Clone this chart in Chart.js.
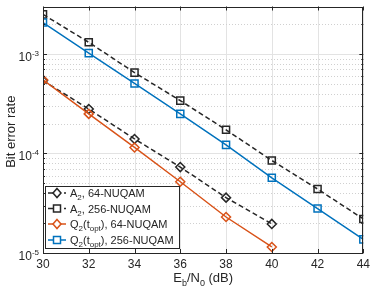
<!DOCTYPE html>
<html>
<head>
<meta charset="utf-8">
<script src="https://cdn.jsdelivr.net/npm/chart.js@4/dist/chart.umd.min.js"></script>
<style>
  html, body { margin: 0; padding: 0; background: #fff; }
  #wrap { width: 374px; height: 291px; position: relative; }
</style>
</head>
<body>
<div id="wrap"><canvas id="berChart"></canvas></div>
<script>
// ── Data ──────────────────────────────────────────────────────────────
const snr64  = [30, 32, 34, 36, 38, 40];
const snr256 = [30, 32, 34, 36, 38, 40, 42, 44];

const a2_64  = [5.4e-4, 2.8e-4, 1.4e-4, 7.3e-5, 3.6e-5, 1.96e-5];
const a2_256 = [2.5e-3, 1.31e-3, 6.5e-4, 3.4e-4, 1.73e-4, 8.5e-5, 4.4e-5, 2.2e-5];
const q2_64  = [5.5e-4, 2.5e-4, 1.15e-4, 5.2e-5, 2.3e-5, 1.15e-5];
const q2_256 = [2.07e-3, 1.02e-3, 5.06e-4, 2.5e-4, 1.22e-4, 5.7e-5, 2.8e-5, 1.37e-5];

const xTicks    = [30, 32, 34, 36, 38, 40, 42, 44];
const yDecades  = [-5, -4, -3];

const BLUE   = '#0072BD';
const ORANGE = '#D95319';
const INK    = '#262626';
const FONT   = '"Liberation Sans", Arial, sans-serif';

const pts = (xs, ys) => xs.map((x, i) => ({ x, y: ys[i] }));

// ── Helpers ───────────────────────────────────────────────────────────

// parts: [[text, 'n'|'sub'|'sup'], ...]
function richWidth(ctx, parts, size) {
    let w = 0;
    parts.forEach(([t, m]) => {
        ctx.font = `${m === 'n' ? size : Math.round(size * 0.7)}px ${FONT}`;
        w += ctx.measureText(t).width;
    });
    return w;
}

function drawRich(ctx, parts, x, y, size) {
    ctx.textBaseline = 'alphabetic';
    ctx.textAlign = 'left';
    parts.forEach(([t, m]) => {
        const s = m === 'n' ? size : Math.round(size * 0.7);
        ctx.font = `${s}px ${FONT}`;
        const dy = m === 'sub' ? size * 0.3 : m === 'sup' ? -size * 0.45 : 0;
        ctx.fillText(t, x, y + dy);
        x += ctx.measureText(t).width;
    });
}

const legendItems = [
    { color: INK,    dash: [5, 3], marker: 'diamond', parts: [['A', 'n'], ['2', 'sub'], [', 64-NUQAM', 'n']] },
    { color: INK,    dash: [5, 3], marker: 'square',  parts: [['A', 'n'], ['2', 'sub'], [', 256-NUQAM', 'n']] },
    { color: ORANGE, dash: [],     marker: 'diamond', parts: [['Q', 'n'], ['2', 'sub'], ['(t', 'n'], ['opt', 'sub'], ['), 64-NUQAM', 'n']] },
    { color: BLUE,   dash: [],     marker: 'square',  parts: [['Q', 'n'], ['2', 'sub'], ['(t', 'n'], ['opt', 'sub'], ['), 256-NUQAM', 'n']] },
];

function drawMarker(ctx, type, x, y, color) {
    ctx.save();
    ctx.strokeStyle = color;
    ctx.lineWidth = 1.5;
    ctx.setLineDash([]);
    ctx.beginPath();
    if (type === 'square') {
        ctx.rect(x - 3.5, y - 3.5, 7, 7);
    } else {
        ctx.moveTo(x, y - 4.5); ctx.lineTo(x + 4, y); ctx.lineTo(x, y + 4.5); ctx.lineTo(x - 4, y);
        ctx.closePath();
    }
    ctx.fillStyle = '#fff';
    ctx.fill();
    ctx.stroke();
    ctx.restore();
}

// ── MATLAB-like frame: grid, box, ticks, labels, legend ───────────────

const matlabFrame = {
    id: 'matlabFrame',
    beforeDatasetsDraw(chart) {
        const { ctx, chartArea: a, scales: { x, y } } = chart;
        ctx.save();
        // vertical major grid
        ctx.strokeStyle = '#e3e3e3';
        ctx.lineWidth = 1;
        xTicks.forEach(v => {
            const px = Math.round(x.getPixelForValue(v)) + 0.5;
            ctx.beginPath(); ctx.moveTo(px, a.top); ctx.lineTo(px, a.bottom); ctx.stroke();
        });
        // horizontal grid (major solid, minor dotted)
        for (let d = -5; d <= -3; d++) {
            for (let m = 1; m <= 9; m++) {
                const v = m * Math.pow(10, d);
                if (v < y.min || v > y.max) continue;
                const py = Math.round(y.getPixelForValue(v)) + 0.5;
                ctx.beginPath();
                if (m === 1) { ctx.setLineDash([]); ctx.strokeStyle = '#e3e3e3'; }
                else { ctx.setLineDash([1, 2]); ctx.strokeStyle = '#d0d0d0'; }
                ctx.moveTo(a.left, py); ctx.lineTo(a.right, py); ctx.stroke();
            }
        }
        ctx.restore();
    },
    afterDatasetsDraw(chart) {
        const { ctx, chartArea: a, scales: { x, y } } = chart;
        ctx.save();
        ctx.strokeStyle = INK;
        ctx.fillStyle = INK;
        ctx.lineWidth = 1;
        ctx.setLineDash([]);
        ctx.strokeRect(Math.round(a.left) + 0.5, Math.round(a.top) + 0.5,
                       Math.round(a.right - a.left) - 1, Math.round(a.bottom - a.top) - 1);

        // x ticks, inward on bottom and top
        xTicks.forEach(v => {
            const px = Math.round(x.getPixelForValue(v)) + 0.5;
            ctx.beginPath();
            ctx.moveTo(px, a.bottom); ctx.lineTo(px, a.bottom - 4);
            ctx.moveTo(px, a.top);    ctx.lineTo(px, a.top + 4);
            ctx.stroke();
        });
        // y ticks (major + minor), inward on left and right
        for (let d = -5; d <= -3; d++) {
            for (let m = 1; m <= 9; m++) {
                const v = m * Math.pow(10, d);
                if (v < y.min || v > y.max) continue;
                const py = Math.round(y.getPixelForValue(v)) + 0.5;
                const len = m === 1 ? 4 : 2;
                ctx.beginPath();
                ctx.moveTo(a.left, py);  ctx.lineTo(a.left + len, py);
                ctx.moveTo(a.right, py); ctx.lineTo(a.right - len, py);
                ctx.stroke();
            }
        }
        // y tick labels 10^n
        yDecades.forEach(d => {
            const py = y.getPixelForValue(Math.pow(10, d));
            const parts = [['10', 'n'], [String(d), 'sup']];
            const w = richWidth(ctx, parts, 12);
            ctx.fillStyle = INK;
            drawRich(ctx, parts, a.left - 4 - w, py + 7, 12);
        });

        // axis titles
        ctx.save();
        ctx.translate(11, (a.top + a.bottom) / 2 + 2);
        ctx.rotate(-Math.PI / 2);
        ctx.font = `13px ${FONT}`;
        ctx.textAlign = 'center';
        ctx.textBaseline = 'middle';
        ctx.fillText('Bit error rate', 0, 0);
        ctx.restore();

        const xt = [['E', 'n'], ['b', 'sub'], ['/N', 'n'], ['0', 'sub'], [' (dB)', 'n']];
        const xw = richWidth(ctx, xt, 13);
        drawRich(ctx, xt, (a.left + a.right) / 2 - xw / 2, 282, 13);

        // legend
        const L = 45, T = 186, R = 180, B = 249;
        ctx.fillStyle = '#fff';
        ctx.fillRect(L, T, R - L, B - T);
        ctx.strokeStyle = INK;
        ctx.strokeRect(L + 0.5, T + 0.5, R - L - 1, B - T - 1);
        const rows = [193, 208.5, 224, 240];
        legendItems.forEach((it, i) => {
            const ry = rows[i];
            ctx.save();
            ctx.strokeStyle = it.color;
            ctx.lineWidth = 1.5;
            ctx.setLineDash(it.dash);
            ctx.beginPath(); ctx.moveTo(48, ry); ctx.lineTo(66, ry); ctx.stroke();
            ctx.restore();
            drawMarker(ctx, it.marker, 57, ry, it.color);
            ctx.fillStyle = INK;
            drawRich(ctx, it.parts, 70, ry + 4, 11);
        });
        ctx.restore();
    },
};

// ── Chart ─────────────────────────────────────────────────────────────

function series(label, xs, ys, color, dash, marker) {
    return {
        label,
        data: pts(xs, ys),
        borderColor: color,
        borderWidth: 1.5,
        borderDash: dash,
        backgroundColor: 'rgba(0,0,0,0)',
        pointStyle: marker,
        pointRadius: marker === 'rect' ? 5 : 4.5,
        pointBorderWidth: 1.5,
        pointBorderColor: color,
        pointBackgroundColor: 'rgba(0,0,0,0)',
        tension: 0,
    };
}

new Chart(document.getElementById('berChart'), {
    type: 'line',
    data: {
        datasets: [
            series('Q2(topt), 256-NUQAM', snr256, q2_256, BLUE,   [],     'rect'),
            series('Q2(topt), 64-NUQAM',  snr64,  q2_64,  ORANGE, [],     'rectRot'),
            series('A2, 256-NUQAM',       snr256, a2_256, INK,    [5, 3], 'rect'),
            series('A2, 64-NUQAM',        snr64,  a2_64,  INK,    [5, 3], 'rectRot'),
        ],
    },
    plugins: [matlabFrame],
    options: {
        responsive: true,
        maintainAspectRatio: false,
        animation: false,
        layout: { padding: { top: 1, right: 7, left: 0, bottom: 0 } },
        plugins: { legend: { display: false }, tooltip: { enabled: false } },
        scales: {
            x: {
                type: 'linear',
                min: 30, max: 44,
                grid: { display: false, drawTicks: false },
                border: { display: false },
                afterFit: s => { s.height = 38; },
                afterBuildTicks: s => { s.ticks = xTicks.map(v => ({ value: v })); },
                ticks: {
                    color: INK,
                    padding: 4,
                    autoSkip: false,
                    maxRotation: 0,
                    font: { family: FONT, size: 12 },
                },
            },
            y: {
                type: 'logarithmic',
                min: 1e-5, max: 3e-3,
                grid: { display: false, drawTicks: false },
                border: { display: false },
                ticks: { display: false },
                afterFit: s => { s.width = 43; },
            },
        },
    },
});
</script>
</body>
</html>
